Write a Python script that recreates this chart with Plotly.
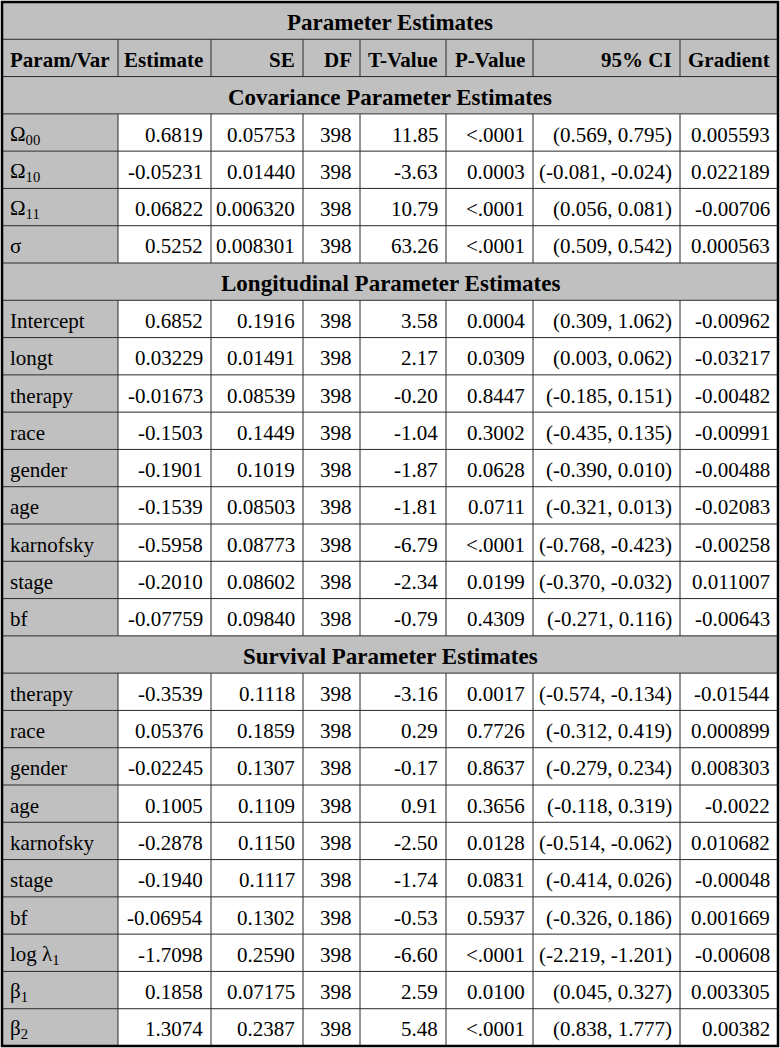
import plotly.graph_objects as go

# ---------------- data ----------------
title = "Parameter Estimates"
columns = ["Param/Var", "Estimate", "SE", "DF", "T-Value", "P-Value", "95% CI", "Gradient"]

sec_cov = "Covariance Parameter Estimates"
cov_names = ["Ω<sub>00</sub>", "Ω<sub>10</sub>", "Ω<sub>11</sub>", "σ"]
cov_est = ["0.6819", "-0.05231", "0.06822", "0.5252"]
cov_se = ["0.05753", "0.01440", "0.006320", "0.008301"]
cov_df = ["398", "398", "398", "398"]
cov_t = ["11.85", "-3.63", "10.79", "63.26"]
cov_p = ["<.0001", "0.0003", "<.0001", "<.0001"]
cov_ci = ["(0.569, 0.795)", "(-0.081, -0.024)", "(0.056, 0.081)", "(0.509, 0.542)"]
cov_grad = ["0.005593", "0.022189", "-0.00706", "0.000563"]

sec_long = "Longitudinal Parameter Estimates"
long_names = ["Intercept", "longt", "therapy", "race", "gender", "age", "karnofsky", "stage", "bf"]
long_est = ["0.6852", "0.03229", "-0.01673", "-0.1503", "-0.1901", "-0.1539", "-0.5958", "-0.2010", "-0.07759"]
long_se = ["0.1916", "0.01491", "0.08539", "0.1449", "0.1019", "0.08503", "0.08773", "0.08602", "0.09840"]
long_df = ["398"] * 9
long_t = ["3.58", "2.17", "-0.20", "-1.04", "-1.87", "-1.81", "-6.79", "-2.34", "-0.79"]
long_p = ["0.0004", "0.0309", "0.8447", "0.3002", "0.0628", "0.0711", "<.0001", "0.0199", "0.4309"]
long_ci = ["(0.309, 1.062)", "(0.003, 0.062)", "(-0.185, 0.151)", "(-0.435, 0.135)", "(-0.390, 0.010)",
           "(-0.321, 0.013)", "(-0.768, -0.423)", "(-0.370, -0.032)", "(-0.271, 0.116)"]
long_grad = ["-0.00962", "-0.03217", "-0.00482", "-0.00991", "-0.00488", "-0.02083", "-0.00258", "0.011007", "-0.00643"]

sec_surv = "Survival Parameter Estimates"
surv_names = ["therapy", "race", "gender", "age", "karnofsky", "stage", "bf",
              "log λ<sub>1</sub>", "β<sub>1</sub>", "β<sub>2</sub>"]
surv_est = ["-0.3539", "0.05376", "-0.02245", "0.1005", "-0.2878", "-0.1940", "-0.06954", "-1.7098", "0.1858", "1.3074"]
surv_se = ["0.1118", "0.1859", "0.1307", "0.1109", "0.1150", "0.1117", "0.1302", "0.2590", "0.07175", "0.2387"]
surv_df = ["398"] * 10
surv_t = ["-3.16", "0.29", "-0.17", "0.91", "-2.50", "-1.74", "-0.53", "-6.60", "2.59", "5.48"]
surv_p = ["0.0017", "0.7726", "0.8637", "0.3656", "0.0128", "0.0831", "0.5937", "<.0001", "0.0100", "<.0001"]
surv_ci = ["(-0.574, -0.134)", "(-0.312, 0.419)", "(-0.279, 0.234)", "(-0.118, 0.319)", "(-0.514, -0.062)",
           "(-0.414, 0.026)", "(-0.326, 0.186)", "(-2.219, -1.201)", "(0.045, 0.327)", "(0.838, 1.777)"]
surv_grad = ["-0.01544", "0.000899", "0.008303", "-0.0022", "0.010682", "-0.00048", "0.001669", "-0.00608", "0.003305", "0.00382"]

sections = [
    (sec_cov, [cov_names, cov_est, cov_se, cov_df, cov_t, cov_p, cov_ci, cov_grad]),
    (sec_long, [long_names, long_est, long_se, long_df, long_t, long_p, long_ci, long_grad]),
    (sec_surv, [surv_names, surv_est, surv_se, surv_df, surv_t, surv_p, surv_ci, surv_grad]),
]

# ---------------- layout ----------------
W, H = 780, 1048
X0, Y0, X1, Y1 = 2, 2, 778, 1046
col_widths = [116, 93, 92, 57, 86, 87, 147, 98]
GRAY = "#c0c0c0"
LINE = "#2a2a2a"
FONT = "Liberation Serif, Times New Roman, serif"
FS = 21
FS_BIG = 23
PAD = 6

edges = [X0]
for w in col_widths:
    edges.append(edges[-1] + w)

rows = [("title", title), ("header", columns)]
for name, cols in sections:
    rows.append(("section", name))
    for i in range(len(cols[0])):
        rows.append(("data", [c[i] for c in cols]))

n = len(rows)
rh = (Y1 - Y0) / n

shapes = []
annotations = []

def rect(x0, y0, x1, y1, fill):
    shapes.append(dict(type="rect", xref="x", yref="y", x0=x0, y0=y0, x1=x1, y1=y1,
                       fillcolor=fill, line=dict(width=0), layer="below"))

def line(x0, y0, x1, y1, w=1, c=LINE):
    shapes.append(dict(type="line", xref="x", yref="y", x0=x0, y0=y0, x1=x1, y1=y1,
                       line=dict(color=c, width=w)))

def text(s, x, y, anchor, bold=False, size=FS):
    annotations.append(dict(text=("<b>%s</b>" % s) if bold else s, x=x, y=y, xref="x", yref="y",
                            xanchor=anchor, yanchor="middle", showarrow=False,
                            font=dict(family=FONT, size=size, color="#000")))

for r, (kind, content) in enumerate(rows):
    ya = Y0 + r * rh
    yb = ya + rh
    yc = (ya + yb) / 2 + 2
    if kind in ("title", "section"):
        rect(X0, ya, X1, yb, GRAY)
        text(content, (X0 + X1) / 2, yc, "center", bold=True, size=FS_BIG)
    elif kind == "header":
        rect(X0, ya, X1, yb, GRAY)
        for j, s in enumerate(content):
            if j == 0:
                text(s, edges[0] + PAD, yc, "left", bold=True)
            else:
                text(s, edges[j + 1] - PAD, yc, "right", bold=True)
        for j in range(1, len(edges) - 1):
            line(edges[j], ya, edges[j], yb)
    else:
        rect(edges[0], ya, edges[1], yb, GRAY)
        rect(edges[1], ya, X1, yb, "#ffffff")
        for j, s in enumerate(content):
            if j == 0:
                text(s, edges[0] + PAD, yc, "left")
            else:
                text(s, edges[j + 1] - PAD, yc, "right")
        for j in range(1, len(edges) - 1):
            line(edges[j], ya, edges[j], yb)
    if r > 0:
        line(X0, ya, X1, ya)

shapes.append(dict(type="rect", xref="x", yref="y", x0=X0, y0=Y0, x1=X1, y1=Y1,
                   line=dict(color="#000", width=2.5), fillcolor="rgba(0,0,0,0)"))

fig = go.Figure()
fig.update_layout(
    width=W, height=H, margin=dict(l=0, r=0, t=0, b=0),
    paper_bgcolor="#ffffff", plot_bgcolor="#ffffff",
    xaxis=dict(range=[0, W], visible=False, fixedrange=True),
    yaxis=dict(range=[H, 0], visible=False, fixedrange=True),
    shapes=shapes, annotations=annotations, showlegend=False,
)
fig.write_html("out.html", config={"displayModeBar": False},
               post_script="document.body.style.margin='0px';document.body.style.overflow='hidden';")
